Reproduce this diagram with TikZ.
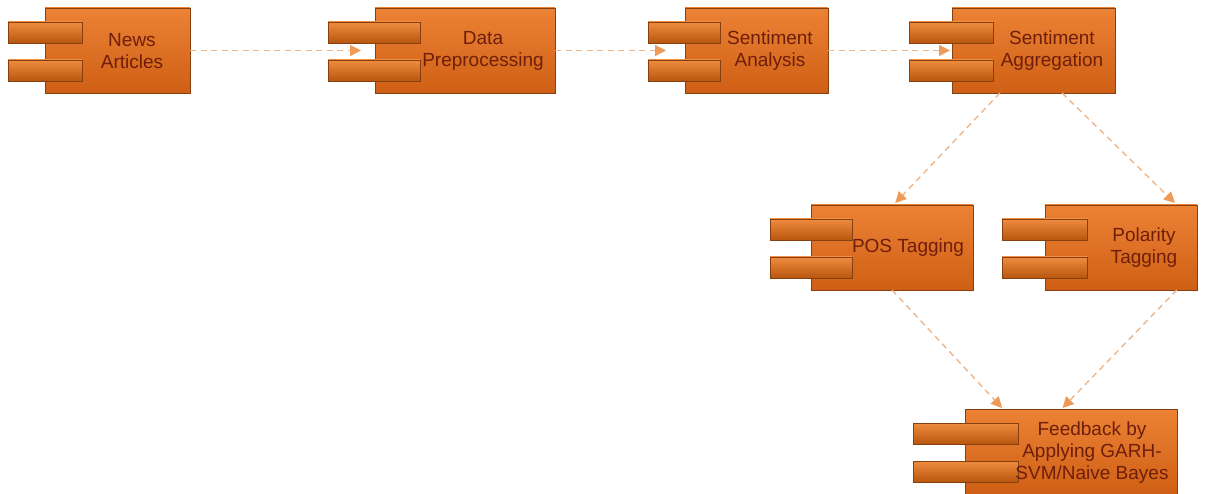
\documentclass[tikz,border=0pt]{standalone}
\usepackage{fontspec}
\setmainfont{Liberation Sans}
\usetikzlibrary{arrows.meta,calc}

\definecolor{bodytop}{HTML}{EC8235}
\definecolor{bodybot}{HTML}{CF5F14}
\definecolor{tabtop}{HTML}{F08C3E}
\definecolor{tabbot}{HTML}{B9560F}
\definecolor{edge}{HTML}{86400F}
\definecolor{labeltext}{HTML}{6E1E0A}
\definecolor{flowline}{HTML}{EDB78C}
\definecolor{flowhead}{HTML}{EE9A58}

\tikzset{
  compbody/.style={draw=edge, line width=0.9pt, top color=bodytop, bottom color=bodybot,
    rectangle, inner sep=0pt, outer sep=0pt, anchor=north west},
  comptab/.style={draw=edge, line width=0.9pt, top color=tabtop, bottom color=tabbot},
  complabel/.style={text=labeltext, align=center, inner sep=0pt,
    font=\fontsize{19}{22}\selectfont},
  flow/.style={draw=flowline, line width=1.4pt, dash pattern=on 6pt off 4.5pt,
    -{Triangle[length=11pt,width=11pt,color=flowhead,fill=flowhead]}},
}

% #1 name, #2 body left, #3 top, #4 body right, #5 tab left, #6 tab right
\newcommand{\component}[6]{%
  \node[compbody, minimum width={(#4-#2)*1pt}, minimum height=85pt] (#1) at (#2,#3) {};
  \draw[comptab] (#5,{#3+14}) rectangle (#6,{#3+35});
  \draw[comptab] (#5,{#3+52}) rectangle (#6,{#3+73});
}

\begin{document}
\begin{tikzpicture}[x=1pt,y=-1pt]
  \useasboundingbox (0,0) rectangle (1209,494);

  % components
  \component{news}{45}{8}{190}{8}{82}
  \component{prep}{375}{8}{555}{328}{420}
  \component{analysis}{685}{8}{828}{648}{720}
  \component{aggr}{952}{8}{1115}{909}{993}
  \component{pos}{811}{205}{973}{770}{852}
  \component{polarity}{1045}{205}{1197}{1002}{1087}
  \component{feedback}{965}{409}{1177}{913}{1018}

  % captions
  \node[complabel] (news-t) at (132,51) {News\\Articles};
  \node[complabel] (prep-t) at (483,51) {Data\\Preprocessing};
  \node[complabel] (analysis-t) at (770,51) {Sentiment\\Analysis};
  \node[complabel] (aggr-t) at (1052,51) {Sentiment\\Aggregation};
  \node[complabel] (pos-t) at (908,248) {POS Tagging};
  \node[complabel] (polarity-t) at (1144,248) {Polarity\\Tagging};
  \node[complabel] (feedback-t) at (1092,453) {Feedback by\\Applying GARH-\\SVM/Naive Bayes};

  % dependencies
  \draw[flow, shorten >=14pt] (news.east) -- (prep.west);
  \draw[flow, shorten >=19pt] (prep.east) -- (analysis.west);
  \draw[flow, shorten >=2pt] (analysis.east) -- (aggr.west);
  \draw[flow] ($(aggr.south west)!0.294!(aggr.south east)$) -- ($(pos.north west)!0.52!(pos.north east)+(0,-2)$);
  \draw[flow] ($(aggr.south west)!0.675!(aggr.south east)$) -- ($(polarity.north west)!0.855!(polarity.north east)+(0,-2)$);
  \draw[flow] ($(pos.south west)!0.5!(pos.south east)$) -- ($(feedback.north west)!0.175!(feedback.north east)+(0,-1)$);
  \draw[flow] ($(polarity.south west)!0.867!(polarity.south east)$) -- ($(feedback.north west)!0.46!(feedback.north east)+(0,-1)$);
\end{tikzpicture}
\end{document}
